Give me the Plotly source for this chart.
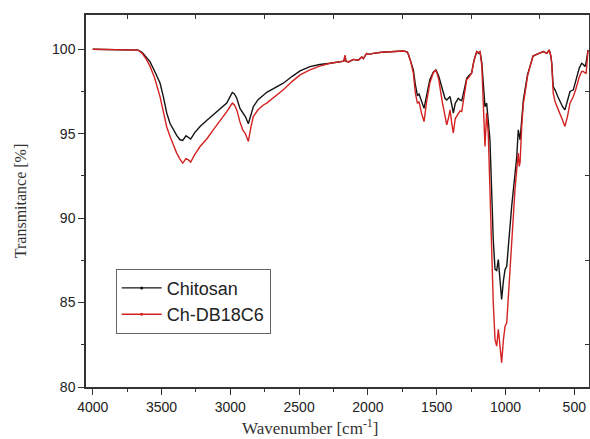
import plotly.graph_objects as go

wavenumber = [4000, 3900, 3800, 3740, 3700, 3669, 3640, 3610, 3584, 3550, 3511, 3487, 3462, 3438,
              3414, 3390, 3366, 3346, 3322, 3305, 3288, 3260, 3220, 3170, 3124, 3075, 3026, 2995,
              2985, 2970, 2953, 2930, 2910, 2890, 2869, 2850, 2833, 2800, 2760, 2735, 2690, 2615,
              2550, 2493, 2421, 2350, 2275, 2200, 2175, 2166, 2160, 2140, 2106, 2070, 2045, 2033,
              2010, 1990, 1961, 1900, 1850, 1800, 1743, 1715, 1706, 1690, 1670, 1655, 1640, 1628,
              1610, 1592, 1575, 1550, 1525, 1505, 1485, 1460, 1440, 1427, 1415, 1403, 1390, 1379,
              1365, 1343, 1330, 1318, 1300, 1282, 1265, 1246, 1230, 1215, 1209, 1195, 1185, 1172,
              1161, 1149, 1137, 1125, 1113, 1100, 1089, 1076, 1064, 1052, 1040, 1028, 1015, 1003,
              991, 975, 955, 931, 918, 907, 900, 894, 882, 870, 858, 840, 822, 800, 773, 750, 725,
              700, 682, 670, 664, 653, 640, 620, 604, 585, 568, 550, 531, 507, 490, 471, 463, 446,
              434, 422, 414, 400]

chitosan = [100.0, 99.98, 99.97, 99.98, 99.97, 99.95, 99.8, 99.5, 99.27, 98.7, 98.0, 97.2, 96.22, 95.6,
            95.23, 94.9, 94.64, 94.6, 94.88, 94.75, 94.68, 95.05, 95.43, 95.8, 96.12, 96.45, 96.81, 97.3,
            97.44, 97.35, 97.1, 96.5, 96.22, 96.0, 95.59, 96.2, 96.6, 97.0, 97.3, 97.45, 97.65, 97.99,
            98.4, 98.72, 98.97, 99.1, 99.17, 99.25, 99.3, 99.6, 99.3, 99.25, 99.4, 99.35, 99.55, 99.45,
            99.75, 99.7, 99.76, 99.82, 99.85, 99.88, 99.9, 99.85, 99.7, 99.3, 98.8, 97.9, 97.25, 97.35,
            96.9, 96.5, 97.2, 98.2, 98.65, 98.78, 98.4, 97.6, 97.1, 97.0, 97.1, 97.2, 96.7, 96.22,
            96.8, 97.1, 97.0, 96.95, 97.6, 98.28, 98.45, 98.6, 99.3, 99.8, 99.86, 99.75, 99.86, 99.2,
            97.99, 96.6, 96.81, 95.8, 94.64, 91.5, 88.73, 86.96, 86.9, 87.54, 86.1, 85.18, 86.3, 86.96,
            87.15, 89.0, 90.7, 92.6, 93.65, 95.23, 94.8, 94.64, 95.82, 97.0, 97.6, 98.5, 98.97, 99.6, 99.7, 99.8, 99.86,
            99.76, 99.96, 99.6, 99.17, 97.79, 97.6, 97.2, 96.9, 96.6, 96.41, 96.9, 97.5, 97.6, 98.2, 98.68, 98.9, 99.17,
            99.1, 98.97, 99.2, 99.96]

ch_db18c6 = [100.0, 99.98, 99.97, 99.98, 99.97, 99.95, 99.75, 99.4, 99.0, 98.3, 97.2, 96.22, 95.4, 94.83,
             94.3, 93.85, 93.5, 93.26, 93.52, 93.45, 93.32, 93.75, 94.24, 94.7, 95.23, 95.75, 96.31, 96.7,
             96.81, 96.7, 96.41, 95.7, 95.23, 95.0, 94.54, 95.4, 96.02, 96.4, 96.7, 96.81, 97.1, 97.6,
             98.1, 98.48, 98.78, 99.0, 99.17, 99.25, 99.3, 99.66, 99.3, 99.25, 99.4, 99.35, 99.55, 99.45,
             99.75, 99.7, 99.76, 99.82, 99.85, 99.88, 99.9, 99.85, 99.7, 99.3, 98.6, 97.4, 96.8, 96.9,
             96.2, 95.72, 96.8, 98.0, 98.6, 98.78, 98.2, 96.9, 96.0, 95.53, 95.9, 96.41, 95.6, 95.04,
             95.9, 96.22, 96.35, 96.31, 97.4, 98.2, 98.35, 98.58, 99.3, 99.8, 99.86, 99.8, 99.86, 99.0,
             97.0, 94.24, 96.22, 95.0, 91.68, 87.5, 85.0, 82.82, 82.42, 83.41, 82.2, 81.44, 82.8, 83.6,
             83.8, 86.0, 89.0, 91.68, 92.9, 93.85, 93.06, 93.3, 95.43, 96.8, 97.4, 98.4, 98.97, 99.6, 99.7, 99.8, 99.86,
             99.76, 99.96, 99.6, 99.17, 97.4, 96.9, 96.5, 96.22, 95.8, 95.43, 96.0, 96.81, 97.2, 97.6, 98.2, 98.38, 98.68,
             98.68, 98.6, 98.58, 99.96]

x_major = [4000, 3500, 3000, 2500, 2000, 1500, 1000, 500]
x_minor = [3750, 3250, 2750, 2250, 1750, 1250, 750]
y_major = [80, 85, 90, 95, 100]
y_minor = [82.5, 87.5, 92.5, 97.5]

BLACK = "#141414"
RED = "#d42222"
AX = "#333333"
SANS = "Liberation Sans, Arial, sans-serif"
SERIF = "Liberation Serif, Times New Roman, serif"

fig = go.Figure()
fig.add_trace(go.Scatter(x=wavenumber, y=chitosan, mode="lines", name="Chitosan",
                         line=dict(color=BLACK, width=1.4), showlegend=False))
fig.add_trace(go.Scatter(x=wavenumber, y=ch_db18c6, mode="lines", name="Ch-DB18C6",
                         line=dict(color=RED, width=1.4), showlegend=False))
# legend entries (line + symbol style)
fig.add_trace(go.Scatter(x=[None], y=[None], mode="lines+markers", name="Chitosan",
                         line=dict(color=BLACK, width=1.4), marker=dict(size=3, color=BLACK)))
fig.add_trace(go.Scatter(x=[None], y=[None], mode="lines+markers", name="Ch-DB18C6",
                         line=dict(color=RED, width=1.4), marker=dict(size=3, color=RED)))
# helper for mirrored inside ticks
fig.add_trace(go.Scatter(x=[None], y=[None], xaxis="x2", yaxis="y2", showlegend=False,
                         hoverinfo="skip"))

fig.update_layout(
    width=590, height=439,
    margin=dict(l=86, r=1, t=15, b=52, autoexpand=False),
    plot_bgcolor="white", paper_bgcolor="white",
    font=dict(family=SANS, size=14, color="#222222"),
    xaxis=dict(range=[4049, 393], tickvals=x_major, ticktext=[str(v) for v in x_major],
               ticks="outside", ticklen=6, tickwidth=1.3, tickcolor=AX, automargin=False,
               minor=dict(tickvals=x_minor, ticks="outside", ticklen=3, tickwidth=1.3, tickcolor=AX),
               showline=True, linecolor=AX, linewidth=1.5, mirror=True,
               showgrid=False, zeroline=False,
               tickfont=dict(size=14, family=SANS, color="#222222")),
    yaxis=dict(range=[80, 102.03], tickvals=y_major, ticktext=[str(v) for v in y_major],
               ticks="outside", ticklen=6, tickwidth=1.3, tickcolor=AX, automargin=False,
               minor=dict(tickvals=y_minor, ticks="outside", ticklen=3, tickwidth=1.3, tickcolor=AX),
               showline=True, linecolor=AX, linewidth=1.5, mirror=True,
               showgrid=False, zeroline=False,
               tickfont=dict(size=14, family=SANS, color="#222222"),
               title=dict(text="Transmitance [%]", standoff=21,
                          font=dict(family=SERIF, size=16, color="#333333"))),
    xaxis2=dict(overlaying="x", side="top", anchor="y", range=[4049, 393], tickvals=x_minor,
                ticks="inside", ticklen=4, tickwidth=1.3, tickcolor=AX, showticklabels=False,
                showline=False, showgrid=False, zeroline=False, automargin=False),
    yaxis2=dict(overlaying="y", side="right", anchor="x", range=[80, 102.03], tickvals=y_minor,
                ticks="inside", ticklen=4, tickwidth=1.3, tickcolor=AX, showticklabels=False,
                showline=False, showgrid=False, zeroline=False, automargin=False),
    legend=dict(x=0.059, y=0.318, xanchor="left", yanchor="top",
                bgcolor="white", bordercolor="#666666", borderwidth=1,
                font=dict(size=18, family=SANS, color="#222222"),
                tracegroupgap=0, itemwidth=40),
    annotations=[dict(text="Wavenumber [cm<sup>-1</sup>]", xref="paper", yref="paper",
                      x=0.445, y=-0.108, xanchor="center", yanchor="middle", showarrow=False,
                      font=dict(family=SERIF, size=17, color="#333333"))],
)

fig.write_html("out.html", config={"displayModeBar": False},
               post_script="document.body.style.margin='0';document.body.style.overflow='hidden';")
